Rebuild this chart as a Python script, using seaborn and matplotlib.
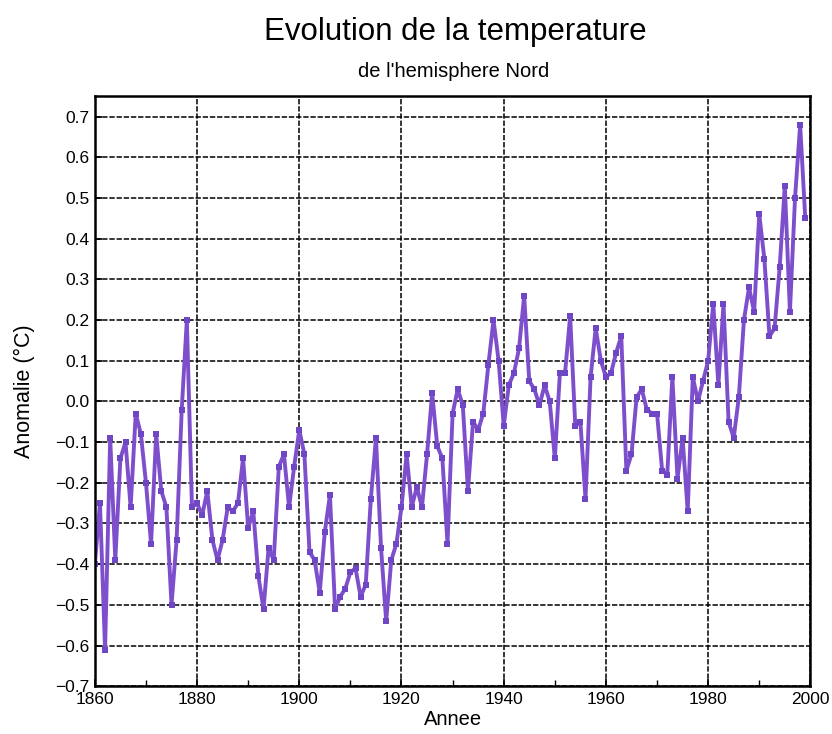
import matplotlib
matplotlib.use("Agg")
import matplotlib.pyplot as plt
import seaborn as sns
import pandas as pd
import numpy as np
from matplotlib.ticker import MultipleLocator

# Northern hemisphere annual temperature anomaly (°C), 1860-1999
years = list(range(1860, 2000))
anomaly = [
    -0.40, -0.25, -0.61, -0.09, -0.39, -0.14, -0.10, -0.26, -0.03, -0.08,  # 1860s
    -0.20, -0.35, -0.08, -0.22, -0.26, -0.50, -0.34, -0.02, 0.20, -0.26,   # 1870s
    -0.25, -0.28, -0.22, -0.34, -0.39, -0.34, -0.26, -0.27, -0.25, -0.14,  # 1880s
    -0.31, -0.27, -0.43, -0.51, -0.36, -0.39, -0.16, -0.13, -0.26, -0.16,  # 1890s
    -0.07, -0.13, -0.37, -0.39, -0.47, -0.32, -0.23, -0.51, -0.48, -0.46,  # 1900s
    -0.42, -0.41, -0.48, -0.45, -0.24, -0.09, -0.36, -0.54, -0.39, -0.35,  # 1910s
    -0.26, -0.13, -0.26, -0.21, -0.26, -0.13, 0.02, -0.11, -0.14, -0.35,   # 1920s
    -0.03, 0.03, -0.01, -0.22, -0.05, -0.07, -0.03, 0.09, 0.20, 0.10,      # 1930s
    -0.06, 0.04, 0.07, 0.13, 0.26, 0.05, 0.03, -0.01, 0.04, 0.00,          # 1940s
    -0.14, 0.07, 0.07, 0.21, -0.06, -0.05, -0.24, 0.06, 0.18, 0.10,        # 1950s
    0.06, 0.07, 0.12, 0.16, -0.17, -0.13, 0.01, 0.03, -0.02, -0.03,        # 1960s
    -0.03, -0.17, -0.18, 0.06, -0.19, -0.09, -0.27, 0.06, 0.00, 0.05,      # 1970s
    0.10, 0.24, 0.04, 0.24, -0.05, -0.09, 0.01, 0.20, 0.28, 0.22,          # 1980s
    0.46, 0.35, 0.16, 0.18, 0.33, 0.53, 0.22, 0.50, 0.68, 0.45,            # 1990s
]

x_ticks = [1860, 1880, 1900, 1920, 1940, 1960, 1980, 2000]
y_ticks = [-0.7, -0.6, -0.5, -0.4, -0.3, -0.2, -0.1, 0.0, 0.1, 0.2, 0.3, 0.4, 0.5, 0.6, 0.7]

title = "Evolution de la temperature"
subtitle = "de l'hemisphere Nord"
x_label = "Annee"
y_label = "Anomalie (°C)"

df = pd.DataFrame({"Annee": years, "Anomalie": anomaly})

sns.set_style("ticks")
plt.rcParams["font.family"] = ["Liberation Sans", "DejaVu Sans"]
plt.rcParams["text.color"] = "black"
plt.rcParams["axes.labelcolor"] = "black"
plt.rcParams["xtick.color"] = "black"
plt.rcParams["ytick.color"] = "black"

fig = plt.figure(figsize=(8.32, 7.34), dpi=100)
ax = fig.add_axes([0.114, 0.065, 0.86, 0.804])

sns.lineplot(
    data=df, x="Annee", y="Anomalie", ax=ax,
    color="#7d4fcc", linewidth=2.8,
    marker="s", markersize=5, markeredgewidth=0,
    markerfacecolor="#6f46c4",
)

ax.set_xlim(1860, 2000)
ax.set_ylim(-0.7, 0.75)
ax.set_xticks(x_ticks)
ax.set_yticks(y_ticks)
ax.set_yticklabels([f"{v:.1f}".replace("-", "\u2212") for v in y_ticks])
ax.xaxis.set_minor_locator(MultipleLocator(10))

ax.grid(True, which="major", color="black", linestyle=(0, (3.5, 1.2)), linewidth=1.1)
ax.set_axisbelow(True)
ax.tick_params(axis="both", which="major", direction="in", length=5, width=1.2,
               labelsize=12.5, pad=4)
ax.tick_params(axis="x", which="minor", direction="in", length=4, width=1.0)
for s in ax.spines.values():
    s.set_linewidth(1.8)
    s.set_color("black")

ax.set_xlabel(x_label, fontsize=14.5, labelpad=2)
ax.set_ylabel(y_label, fontsize=15.5, labelpad=14)

fig.text(0.547, 0.957, title, ha="center", va="center", fontsize=22.5)
fig.text(0.545, 0.902, subtitle, ha="center", va="center", fontsize=14.5)

fig.savefig("out.png", dpi=100)
